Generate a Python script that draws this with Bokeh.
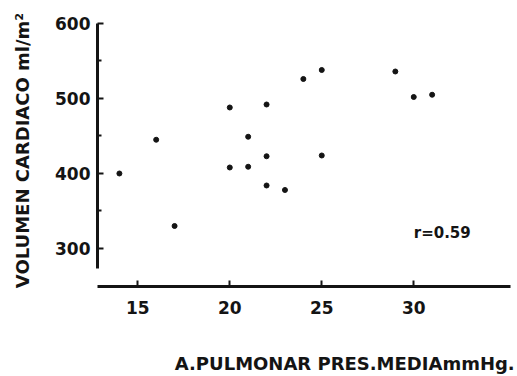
from bokeh.plotting import figure
from bokeh.models import FixedTicker, Label, Range1d
from bokeh.embed import file_html
from bokeh.resources import INLINE

# Data
pap_mmhg = [14, 16, 17, 20, 20, 21, 21, 22, 22, 22, 23, 24, 25, 25, 29, 30, 31]
gasto_ml_m2 = [400, 445, 330, 488, 408, 449, 409, 492, 423, 384, 378, 526, 538, 424, 536, 502, 505]

x_ticks = [15, 20, 25, 30]
y_ticks = [300, 400, 500, 600]
y_minor = [350, 450, 550]

x_label = "A.PULMONAR PRES.MEDIAmmHg."
y_label = "VOLUMEN CARDIACO ml/m\u00b2"
r_text = "r=0.59"
r_pos = (30.0, 321)

FONT = "DejaVu Sans"
INK = "#141414"
# non-breaking spaces shift the centred axis title so it ends near the right edge
LEAD = "\u00a0" * 13

p = figure(width=517, height=376, output_backend="svg", toolbar_location=None,
           x_range=Range1d(12.81, 35.26), y_range=Range1d(249.33, 612),
           min_border_left=97, min_border_right=7, min_border_top=14, min_border_bottom=90)
p.outline_line_color = None
p.grid.visible = False
p.background_fill_color = "white"
p.border_fill_color = "white"

p.scatter(pap_mmhg, gasto_ml_m2, marker="circle", size=5, color=INK)

xa = p.xaxis[0]
xa.ticker = FixedTicker(ticks=x_ticks, minor_ticks=[])
xa.axis_line_width = 3
xa.axis_line_color = INK
xa.major_tick_in = 6
xa.major_tick_out = 0
xa.major_tick_line_width = 2
xa.major_tick_line_color = INK
xa.minor_tick_line_color = None
xa.major_label_text_font = FONT
xa.major_label_text_font_style = "bold"
xa.major_label_text_font_size = "17px"
xa.major_label_text_color = INK
xa.major_label_standoff = 14
xa.axis_label = LEAD + x_label
xa.axis_label_text_font = FONT
xa.axis_label_text_font_style = "bold"
xa.axis_label_text_font_size = "18px"
xa.axis_label_text_color = INK
xa.axis_label_standoff = 36

ya = p.yaxis[0]
ya.ticker = FixedTicker(ticks=y_ticks, minor_ticks=y_minor)
ya.bounds = (273, 600)
ya.axis_line_width = 3
ya.axis_line_color = INK
ya.major_tick_in = 6
ya.major_tick_out = 0
ya.major_tick_line_width = 2
ya.major_tick_line_color = INK
ya.minor_tick_in = 4
ya.minor_tick_out = 0
ya.minor_tick_line_width = 2
ya.minor_tick_line_color = INK
ya.major_label_text_font = FONT
ya.major_label_text_font_style = "bold"
ya.major_label_text_font_size = "17px"
ya.major_label_text_color = INK
ya.major_label_standoff = 7
ya.axis_label = y_label
ya.axis_label_text_font = FONT
ya.axis_label_text_font_style = "bold"
ya.axis_label_text_font_size = "18px"
ya.axis_label_text_color = INK
ya.axis_label_standoff = 19

p.add_layout(Label(x=r_pos[0], y=r_pos[1], text=r_text, text_baseline="middle",
                   text_font=FONT, text_font_style="bold", text_font_size="15px",
                   text_color=INK))

open("out.html", "w").write(file_html(p, INLINE))
